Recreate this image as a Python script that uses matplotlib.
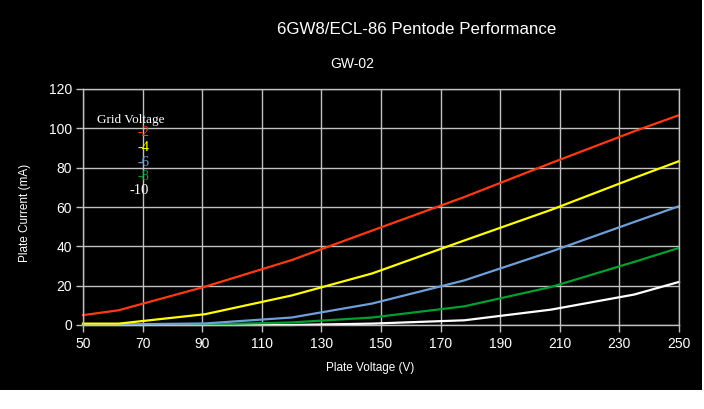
import matplotlib
matplotlib.use('Agg')
from matplotlib import pyplot as plt
from matplotlib.patches import Rectangle

# plate voltage (V) and plate current (mA) for each grid voltage
volts = [50, 62, 91, 120, 147, 178, 207, 235, 250]
ia_m2 = [5.0, 7.5, 19.5, 33.0, 48.0, 65.1, 82.3, 98.5, 106.7]
ia_m4 = [0.7, 0.7, 5.5, 15.0, 26.2, 43.0, 58.5, 74.8, 83.3]
ia_m6 = [0.3, 0.3, 0.8, 3.8, 10.9, 22.7, 37.3, 52.4, 60.4]
ia_m8 = [0.0, 0.0, 0.2, 1.3, 3.8, 9.5, 19.3, 32.1, 39.2]
ia_m10 = [0.0, 0.0, 0.0, 0.0, 0.7, 2.4, 7.8, 15.5, 21.9]

grid_labels = ['-2', '-4', '-6', '-8', '-10']
series = [ia_m2, ia_m4, ia_m6, ia_m8, ia_m10]
colors = ['#ff3a10', '#ffff00', '#6f9fd8', '#00a030', '#ffffff']

x_ticks = list(range(50, 251, 20))
y_ticks = list(range(0, 121, 20))

plt.rcParams['font.family'] = ['Liberation Sans', 'DejaVu Sans']

fig = plt.figure(figsize=(7.04, 4.09), dpi=100, facecolor='white')
# black panel, white margin at the right and bottom
fig.patches.append(Rectangle((0, 1 - 390 / 409), 702 / 704, 390 / 409,
                             transform=fig.transFigure, facecolor='black',
                             edgecolor='none', zorder=-10))

ax = fig.add_axes([83 / 704, 1 - 325 / 409, 596 / 704, 236 / 409])
ax.set_zorder(2)
ax.set_facecolor('black')

# draw from -10 up to -2 so the upper curves sit on top
for vals, col in reversed(list(zip(series, colors))):
    ax.plot(volts, vals, color=col, lw=1.6, clip_on=False)

ax.set_xlim(50, 250)
ax.set_ylim(0, 120)
ax.set_xticks(x_ticks)
ax.set_yticks(y_ticks)
ax.grid(True, color='#c0c0c0', lw=1)
ax.set_axisbelow(True)
for sp in ax.spines.values():
    sp.set_color('#c0c0c0')
    sp.set_linewidth(1)
ax.tick_params(colors='#c0c0c0', labelcolor='white', labelsize=10,
               length=5, width=1, direction='out')
ax.tick_params(axis='x', pad=4)
ax.tick_params(axis='y', pad=3)

fig.text(417 / 704, 1 - 30 / 409, '6GW8/ECL-86 Pentode Performance',
         color='white', fontsize=12.2, ha='center', va='center')
fig.text(352 / 704, 1 - 64 / 409, 'GW-02', color='white', fontsize=10,
         ha='center', va='center')
fig.text(370 / 704, 1 - 368 / 409, 'Plate Voltage (V)', color='white',
         fontsize=8.5, ha='center', va='center')
fig.text(25 / 704, 1 - 213 / 409, 'Plate Current (mA)', color='white',
         fontsize=8.5, ha='center', va='center', rotation=90)

# legend drawn as coloured text
ax.text((131 - 83) / 596, (325 - 120) / 236, 'Grid Voltage', color='white',
        fontsize=9.5, family='Liberation Serif', ha='center', va='center',
        transform=ax.transAxes)
for i, (lab, col) in enumerate(zip(grid_labels, colors)):
    ax.text((149 - 83) / 596, (325 - 133 - i * 14.5) / 236, lab, color=col,
            fontsize=10.5, family='Liberation Serif', ha='right', va='center',
            transform=ax.transAxes)

fig.savefig('out.png', dpi=100, facecolor=fig.get_facecolor())
